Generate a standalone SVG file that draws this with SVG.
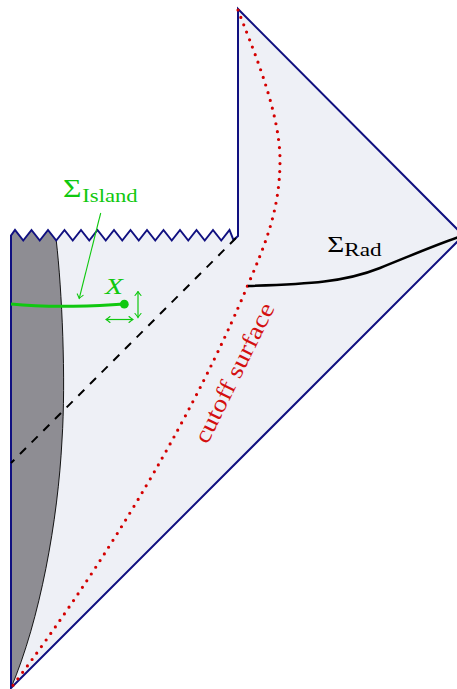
<svg xmlns="http://www.w3.org/2000/svg" width="457" height="689" viewBox="0 0 457 689">
<style>
.navy{fill:none;stroke:#101080;stroke-width:2;stroke-linejoin:miter}
.grn{fill:none;stroke:#10c810}
.gtxt{fill:#10c810;font-family:"Liberation Serif",serif}
.btxt{fill:#000;font-family:"Liberation Serif",serif}
.rtxt{fill:#d41010;font-family:"Liberation Serif",serif}
</style>
<defs>
<marker id="tip" viewBox="-5 -4 6 8" refX="0" refY="0" markerWidth="6" markerHeight="8" markerUnits="userSpaceOnUse" orient="auto-start-reverse">
<path d="M-4,-3 Q-1.2,-0.6 0,0 Q-1.2,0.6 -4,3" fill="none" stroke="#10c810" stroke-width="1.1" stroke-linecap="round"/>
</marker>
</defs>
<rect width="457" height="689" fill="#fff"/>
<g id="spacetime">
<path d="M11,235.5 L15,230 L23.25,240.5 L31.5,230 L39.75,240.5 L48,230 L56.25,240.5 L64.5,230 L72.75,240.5 L81,230 L89.25,240.5 L97.5,230 L105.75,240.5 L114,230 L122.25,240.5 L130.5,230 L138.75,240.5 L147,230 L155.25,240.5 L163.5,230 L171.75,240.5 L180,230 L188.25,240.5 L196.5,230 L204.75,240.5 L213,230 L221.25,240.5 L229.5,230 L233.5,240 L238,236 L238,9 L463.5,235.5 L11,688 Z" fill="#eef0f6"/>
</g>
<g id="island-region">
<path d="M11,235.5 L15,230 L23.25,240.5 L31.5,230 L39.75,240.5 L48,230 L56.25,240.5 C62,290 66,380 62,440 C58,520 40,620 11,688 Z" fill="#8e8d93"/>
<path d="M56.25,240.5 C62,290 66,380 62,440 C58,520 40,620 11,688" fill="none" stroke="#000" stroke-width="0.9"/>
</g>
<g id="boundary">
<path class="navy" d="M11,688 L11,235.5 L15,230 L23.25,240.5 L31.5,230 L39.75,240.5 L48,230 L56.25,240.5 L64.5,230 L72.75,240.5 L81,230 L89.25,240.5 L97.5,230 L105.75,240.5 L114,230 L122.25,240.5 L130.5,230 L138.75,240.5 L147,230 L155.25,240.5 L163.5,230 L171.75,240.5 L180,230 L188.25,240.5 L196.5,230 L204.75,240.5 L213,230 L221.25,240.5 L229.5,230 L233.5,240 L238,236 L238,9 L463.5,235.5 L11,688 Z"/>
</g>
<g id="connectors">
<path d="M236,238 L11,463" fill="none" stroke="#000" stroke-width="2" stroke-dasharray="8.5 8"/>
<path d="M238,10 C250,42 280,110 280,160 C280,210 265,245 247,287 C229,330 160,490 11,688" fill="none" stroke="#d40000" stroke-width="3.2" stroke-linecap="round" stroke-dasharray="0 8"/>
<path d="M248,286 C310,284 345,282 380,268 S440,243 463.5,235.5" fill="none" stroke="#000" stroke-width="2.5"/>
<path class="grn" d="M11,304 C50,308 100,306 124,304" stroke-width="3"/>
<path class="grn" d="M100.7,213 L79.2,298.5" stroke-width="1.1" marker-end="url(#tip)"/>
<path class="grn" d="M138,291.5 L138,317.5" stroke-width="1.2" marker-start="url(#tip)" marker-end="url(#tip)"/>
<path class="grn" d="M106,319.5 L133,319.5" stroke-width="1.2" marker-start="url(#tip)" marker-end="url(#tip)"/>
</g>
<g id="island-label">
<text class="gtxt" x="63" y="197" font-size="25" textLength="18.5" lengthAdjust="spacingAndGlyphs">Σ</text>
<text class="gtxt" x="82.3" y="202" font-size="19" textLength="55.4" lengthAdjust="spacingAndGlyphs">Island</text>
</g>
<g id="point-X">
<circle cx="124.3" cy="304.2" r="4.4" fill="#10c810"/>
<text class="gtxt" x="105" y="294.3" font-size="24" font-style="italic" textLength="18" lengthAdjust="spacingAndGlyphs">X</text>
</g>
<g id="rad-label">
<text class="btxt" x="327.3" y="251.7" font-size="24" textLength="17" lengthAdjust="spacingAndGlyphs">Σ</text>
<text class="btxt" x="344.3" y="256" font-size="19" textLength="37.4" lengthAdjust="spacingAndGlyphs">Rad</text>
</g>
<g id="cutoff-label">
<text class="rtxt" transform="translate(241.3,376.4) rotate(-63.8)" text-anchor="middle" font-size="24" textLength="153" lengthAdjust="spacingAndGlyphs">cutoff surface</text>
</g>
</svg>
